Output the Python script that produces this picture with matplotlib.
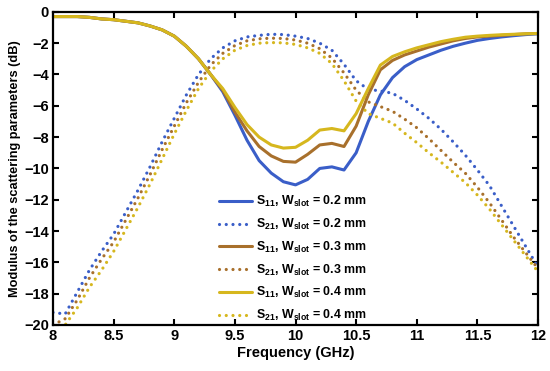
import numpy as np
import matplotlib
matplotlib.use('Agg')
from matplotlib import pyplot as plt

plt.rcParams['font.family'] = ['Liberation Sans', 'DejaVu Sans']
plt.rcParams['font.weight'] = 'bold'
plt.rcParams['mathtext.fontset'] = 'custom'
plt.rcParams['mathtext.rm'] = 'Liberation Sans:bold'
plt.rcParams['mathtext.bf'] = 'Liberation Sans:bold'
plt.rcParams['mathtext.default'] = 'bf'

# frequency grid (GHz)
freq = np.round(np.arange(8.0, 12.01, 0.1), 2)

# S11 (dB)
s11_02 = [-0.3, -0.3, -0.3, -0.35, -0.45, -0.5, -0.6, -0.7, -0.9, -1.15,
          -1.55, -2.2, -3.0, -4.0, -5.1, -6.6, -8.2, -9.5, -10.3, -10.85,
          -11.05, -10.7, -10.0, -9.9, -10.1, -9.0, -7.0, -5.3, -4.2, -3.5,
          -3.05, -2.75, -2.45, -2.2, -2.0, -1.82, -1.7, -1.6, -1.52, -1.45, -1.4]
s11_03 = [-0.3, -0.3, -0.3, -0.35, -0.45, -0.5, -0.6, -0.7, -0.9, -1.15,
          -1.55, -2.2, -3.0, -4.0, -5.0, -6.4, -7.6, -8.6, -9.2, -9.55,
          -9.6, -9.1, -8.5, -8.4, -8.6, -7.3, -5.3, -3.7, -3.1, -2.75,
          -2.5, -2.25, -2.05, -1.85, -1.7, -1.6, -1.55, -1.5, -1.45, -1.4, -1.38]
s11_04 = [-0.3, -0.3, -0.3, -0.35, -0.45, -0.5, -0.6, -0.7, -0.9, -1.15,
          -1.55, -2.2, -3.0, -4.0, -4.9, -6.1, -7.2, -8.0, -8.5, -8.7,
          -8.65, -8.2, -7.55, -7.45, -7.6, -6.5, -4.9, -3.4, -2.85, -2.55,
          -2.3, -2.1, -1.9, -1.75, -1.62, -1.55, -1.5, -1.46, -1.43, -1.4, -1.38]

# S21 (dB)
s21_02 = [-19.2, -19.3, -17.9, -16.5, -15.3, -14.2, -12.8, -11.4, -9.9, -8.3,
          -6.8, -5.3, -4.0, -3.0, -2.3, -1.85, -1.6, -1.5, -1.43, -1.45,
          -1.55, -1.7, -2.0, -2.45, -3.35, -4.4, -4.95, -5.05, -5.2, -5.65,
          -6.2, -6.8, -7.5, -8.3, -9.15, -10.1, -11.1, -12.4, -13.7, -15.0, -16.3]
s21_03 = [-20.0, -19.6, -18.4, -17.0, -15.8, -14.7, -13.3, -11.9, -10.4, -8.8,
          -7.3, -5.8, -4.5, -3.4, -2.65, -2.15, -1.85, -1.72, -1.68, -1.7,
          -1.8, -2.0, -2.35, -2.95, -3.9, -5.0, -5.75, -6.05, -6.35, -6.85,
          -7.4, -8.1, -8.85, -9.6, -10.3, -11.2, -12.2, -13.3, -14.4, -15.4, -16.4]
s21_04 = [-20.2, -20.0, -18.9, -17.6, -16.5, -15.3, -13.9, -12.5, -11.0, -9.4,
          -7.8, -6.3, -4.9, -3.8, -3.0, -2.45, -2.15, -2.0, -1.96, -1.98,
          -2.08, -2.3, -2.65, -3.3, -4.4, -5.7, -6.5, -6.8, -7.1, -7.75,
          -8.35, -9.0, -9.6, -10.25, -10.9, -11.7, -12.6, -13.6, -14.6, -15.6, -16.6]

widths = ['0.2', '0.3', '0.4']
colors = ['#3a5ec8', '#a8702c', '#d6b71e']

fig = plt.figure(figsize=(5.5, 3.71), dpi=100)
ax = fig.add_axes([0.0964, 0.124, 0.8818, 0.844])

dots = (0, (0.01, 2.1))
for w, c, s11, s21 in zip(widths, colors, [s11_02, s11_03, s11_04], [s21_02, s21_03, s21_04]):
    ax.plot(freq, s11, color=c, lw=2.2, solid_capstyle='round',
            label=r'S$_{11}$, W$_{slot}$ = ' + w + ' mm')
    ax.plot(freq, s21, color=c, lw=2.3, ls=dots, dash_capstyle='round',
            label=r'S$_{21}$, W$_{slot}$ = ' + w + ' mm')

ax.set_xlim(8, 12)
ax.set_ylim(-20, 0)
ax.set_xticks(np.arange(8, 12.01, 0.5))
ax.set_xticklabels(['8', '8.5', '9', '9.5', '10', '10.5', '11', '11.5', '12'])
ax.set_yticks(np.arange(-20, 0.1, 2))
ax.set_yticklabels(['\u221220', '\u221218', '\u221216', '\u221214', '\u221212', '\u221210',
                    '\u22128', '\u22126', '\u22124', '\u22122', '0'])
ax.tick_params(direction='in', top=True, right=True, length=4, width=1.5,
               labelsize=10.5, pad=3)
for sp in ax.spines.values():
    sp.set_linewidth(1.6)

ax.set_xlabel('Frequency (GHz)', fontsize=10.5, fontweight='bold', labelpad=2)
ax.set_ylabel('Modulus of the scattering parameters (dB)', fontsize=9.2,
              fontweight='bold', labelpad=2)

ax.legend(loc='upper left', bbox_to_anchor=(0.343, 0.418), frameon=False,
          fontsize=8.9, handlelength=2.6, handletextpad=0.35, labelspacing=0.62,
          borderpad=0, borderaxespad=0)

fig.savefig('out.png', dpi=100)
